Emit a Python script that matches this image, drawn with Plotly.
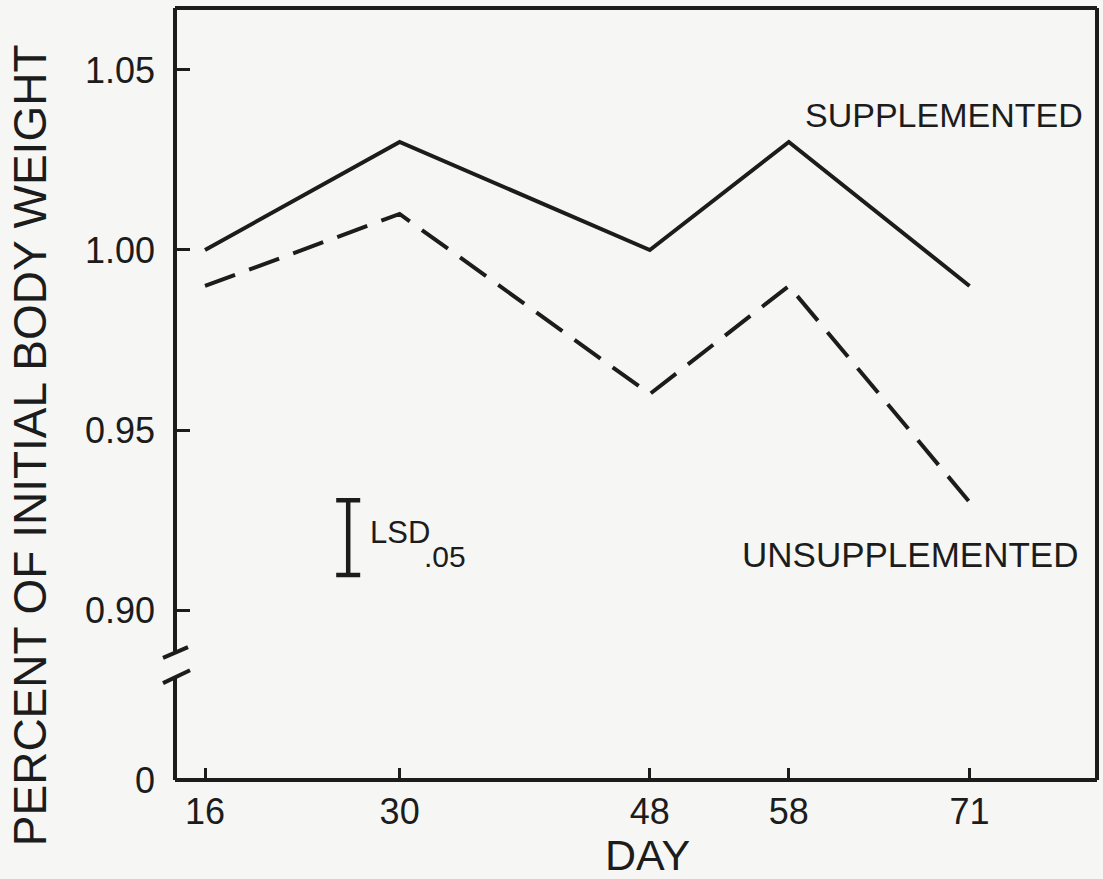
import plotly.graph_objects as go

# Sampling days and mean weight relative to starting weight
days = [16, 30, 48, 58, 71]
supplemented = [1.00, 1.03, 1.00, 1.03, 0.99]
unsupplemented = [0.99, 1.01, 0.96, 0.99, 0.93]

# Least significant difference (P = .05) shown as an I-bar
lsd_day = 26.3
lsd_low = 0.9097
lsd_high = 0.9305

# Y axis is broken: the bottom of the frame stands for 0
y_bottom = 0.8528
y_top = 1.0672
y_tick_vals = [y_bottom, 0.90, 0.95, 1.00, 1.05]
y_tick_text = ["0", "0.90", "0.95", "1.00", "1.05"]
x_range = [13.84, 80.17]

ink = "#1c1c1c"
paper_bg = "#f6f6f4"
font_family = "Liberation Sans, Arial, sans-serif"

fig = go.Figure()

fig.add_trace(go.Scatter(
    x=days, y=supplemented, mode="lines", name="SUPPLEMENTED",
    line=dict(color=ink, width=4),
))
fig.add_trace(go.Scatter(
    x=days, y=unsupplemented, mode="lines", name="UNSUPPLEMENTED",
    line=dict(color=ink, width=4, dash="32px,15px"),
))

lsd_mid = (lsd_low + lsd_high) / 2
fig.add_trace(go.Scatter(
    x=[lsd_day], y=[lsd_mid], mode="markers",
    marker=dict(size=1, color="rgba(0,0,0,0)"),
    error_y=dict(type="data", array=[lsd_high - lsd_mid], visible=True,
                 color=ink, thickness=4.5, width=12),
))

# Frame: top, right, bottom and the two pieces of the broken left spine
frame = dict(color=ink, width=4)
shapes = [
    dict(type="line", xref="paper", yref="paper", x0=0, x1=1, y0=1, y1=1, line=frame),
    dict(type="line", xref="paper", yref="paper", x0=1, x1=1, y0=0, y1=1, line=frame),
    dict(type="line", xref="paper", yref="paper", x0=0, x1=1, y0=0, y1=0, line=frame),
    dict(type="line", xref="paper", yref="y", x0=0, x1=0, y0=0.8885, y1=y_top, line=frame),
    dict(type="line", xref="paper", yref="y", x0=0, x1=0, y0=y_bottom, y1=0.8812, line=frame),
    # break marks
    dict(type="line", xref="paper", yref="y", x0=-0.013, x1=0.0141, y0=0.8867, y1=0.8897, line=frame),
    dict(type="line", xref="paper", yref="y", x0=-0.013, x1=0.0163, y0=0.8797, y1=0.8833, line=frame),
]

annotations = [
    dict(text="SUPPLEMENTED", x=79.3, y=1.0375, xref="x", yref="y",
         xanchor="right", yanchor="middle", showarrow=False,
         font=dict(size=34, color=ink, family=font_family)),
    dict(text="UNSUPPLEMENTED", x=78.95, y=0.9153, xref="x", yref="y",
         xanchor="right", yanchor="middle", showarrow=False,
         font=dict(size=35, color=ink, family=font_family)),
    dict(text="LSD", x=27.7, y=0.9216, xref="x", yref="y",
         xanchor="left", yanchor="middle", showarrow=False,
         font=dict(size=31, color=ink, family=font_family)),
    dict(text=".05", x=31.6, y=0.9150, xref="x", yref="y",
         xanchor="left", yanchor="middle", showarrow=False,
         font=dict(size=30, color=ink, family=font_family)),
    dict(text="PERCENT OF INITIAL BODY WEIGHT", x=-0.157, y=0.434,
         xref="paper", yref="paper", textangle=-90,
         xanchor="center", yanchor="middle", showarrow=False,
         font=dict(size=46, color=ink, family=font_family)),
    dict(text="DAY", x=0.513, y=-0.097, xref="paper", yref="paper",
         xanchor="center", yanchor="middle", showarrow=False,
         font=dict(size=43, color=ink, family=font_family)),
]

fig.update_layout(
    width=1103, height=879,
    margin=dict(l=175, r=6, t=8, b=99),
    paper_bgcolor=paper_bg, plot_bgcolor=paper_bg,
    showlegend=False,
    shapes=shapes,
    annotations=annotations,
    font=dict(family=font_family, color=ink),
)

fig.update_xaxes(
    range=x_range, tickvals=days, ticktext=[str(d) for d in days],
    ticks="inside", ticklen=12, tickwidth=3, tickcolor=ink,
    showgrid=False, zeroline=False, showline=False,
    tickfont=dict(size=36, color=ink, family=font_family),
    ticklabelstandoff=7,
)
fig.update_yaxes(
    range=[y_bottom, y_top], tickvals=y_tick_vals, ticktext=y_tick_text,
    ticks="inside", ticklen=15, tickwidth=3, tickcolor=ink,
    showgrid=False, zeroline=False, showline=False,
    tickfont=dict(size=36, color=ink, family=font_family),
    ticklabelstandoff=19,
)

fig.write_html("out.html")
